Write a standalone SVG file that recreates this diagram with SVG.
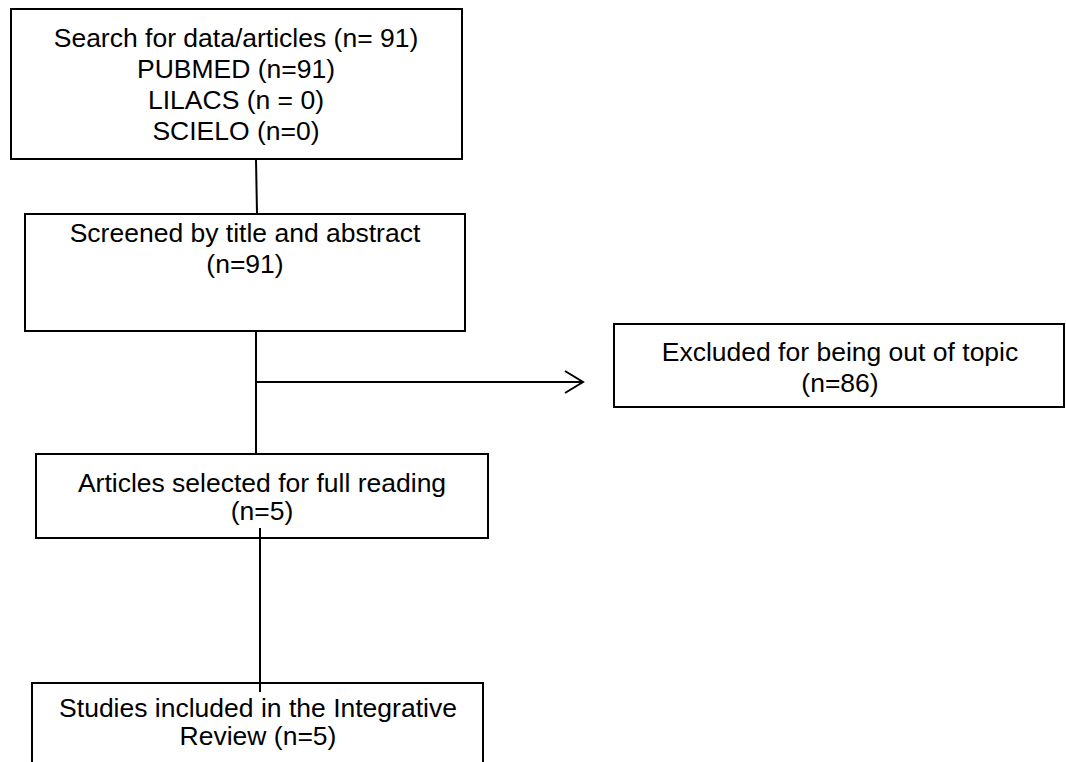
<svg xmlns="http://www.w3.org/2000/svg" width="1066" height="762" viewBox="0 0 1066 762">
<style>
.box{fill:#fff;stroke:#000;stroke-width:2}
.t{font-family:"Liberation Sans",Arial,sans-serif;font-size:26.5px;fill:#000;text-anchor:middle}
.c{stroke:#000;stroke-width:2;fill:none}
</style>
<defs>
<marker id="arr" markerWidth="22" markerHeight="26" refX="19" refY="12" orient="auto" markerUnits="userSpaceOnUse">
<path d="M1,1 L19,12 L1,23" fill="none" stroke="#000" stroke-width="2"/>
</marker>
</defs>
<rect width="1066" height="762" fill="#fff"/>
<g id="search">
<rect class="box" x="11" y="9" width="451" height="150"/>
<text class="t" x="236" y="47">Search for data/articles (n= 91)</text>
<text class="t" x="236" y="78">PUBMED (n=91)</text>
<text class="t" x="236" y="109">LILACS (n = 0)</text>
<text class="t" x="236" y="140">SCIELO (n=0)</text>
</g>
<g id="screened">
<rect class="box" x="25" y="214" width="440" height="117"/>
<text class="t" x="245" y="242">Screened by title and abstract</text>
<text class="t" x="245" y="273">(n=91)</text>
</g>
<g id="excluded">
<rect class="box" x="614" y="324" width="450" height="83"/>
<text class="t" x="840" y="361">Excluded for being out of topic</text>
<text class="t" x="840" y="392">(n=86)</text>
</g>
<g id="selected">
<rect class="box" x="36" y="454" width="452" height="84"/>
<text class="t" x="262" y="492">Articles selected for full reading</text>
<text class="t" x="262" y="520">(n=5)</text>
</g>
<g id="included">
<rect class="box" x="32" y="683" width="451" height="90"/>
<text class="t" x="258" y="717">Studies included in the Integrative</text>
<text class="t" x="258" y="745">Review (n=5)</text>
</g>
<g id="connectors">
<line class="c" x1="256" y1="160" x2="257" y2="213"/>
<line class="c" x1="256" y1="332" x2="256" y2="453"/>
<line class="c" x1="256" y1="382" x2="583" y2="382" marker-end="url(#arr)"/>
<line class="c" x1="260" y1="528" x2="260" y2="692"/>
</g>
</svg>
